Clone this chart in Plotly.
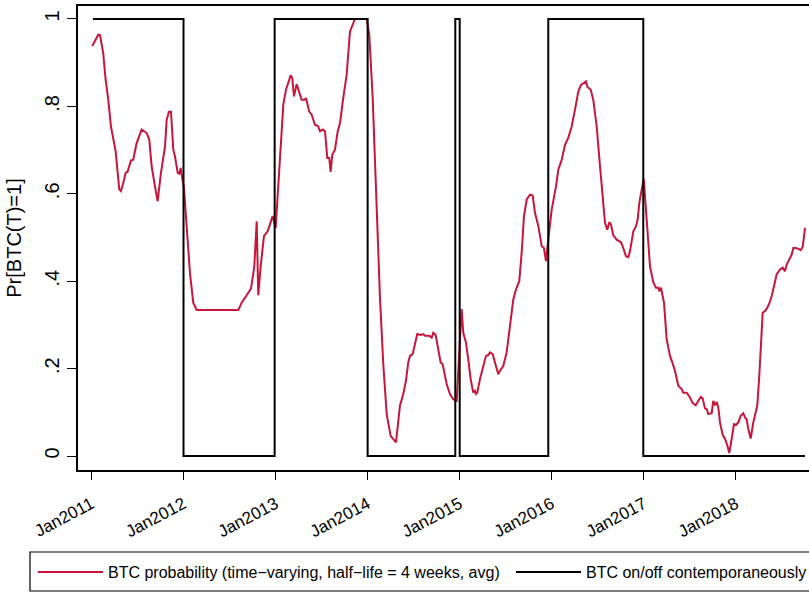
import plotly.graph_objects as go
import pandas as pd

# Red series: BTC probability (decimal year, value)
prob_t = [2011.011, 2011.076, 2011.095, 2011.130, 2011.156, 2011.185, 2011.214, 2011.265, 2011.304, 2011.323,
          2011.348, 2011.374, 2011.395, 2011.431, 2011.456, 2011.493, 2011.547, 2011.602, 2011.630, 2011.656,
          2011.692, 2011.721, 2011.757, 2011.801, 2011.819, 2011.844, 2011.866, 2011.891, 2011.909, 2011.939,
          2011.956, 2011.971, 2011.982, 2012.007, 2012.036, 2012.072, 2012.108, 2012.145, 2012.597, 2012.634,
          2012.688, 2012.735, 2012.771, 2012.797, 2012.814, 2012.840, 2012.876, 2012.916, 2012.941, 2012.970,
          2013.003, 2013.050, 2013.086, 2013.115, 2013.140, 2013.166, 2013.183, 2013.202, 2013.231, 2013.259,
          2013.285, 2013.314, 2013.332, 2013.368, 2013.394, 2013.430, 2013.466, 2013.484, 2013.514, 2013.539,
          2013.564, 2013.585, 2013.600, 2013.618, 2013.647, 2013.677, 2013.702, 2013.737, 2013.774, 2013.810,
          2013.846, 2013.864, 2013.992, 2014.020, 2014.057, 2014.100, 2014.136, 2014.172, 2014.209, 2014.252,
          2014.310, 2014.328, 2014.353, 2014.389, 2014.418, 2014.443, 2014.462, 2014.491, 2014.516, 2014.541,
          2014.578, 2014.606, 2014.625, 2014.672, 2014.698, 2014.715, 2014.741, 2014.769, 2014.795, 2014.817,
          2014.842, 2014.861, 2014.896, 2014.932, 2014.969, 2014.997, 2015.023, 2015.041, 2015.070, 2015.095,
          2015.121, 2015.149, 2015.168, 2015.179, 2015.193, 2015.222, 2015.258, 2015.287, 2015.312, 2015.331,
          2015.360, 2015.393, 2015.421, 2015.439, 2015.475, 2015.512, 2015.548, 2015.584, 2015.613, 2015.649,
          2015.675, 2015.700, 2015.730, 2015.765, 2015.795, 2015.820, 2015.856, 2015.893, 2015.917, 2015.939,
          2015.964, 2016.001, 2016.048, 2016.073, 2016.110, 2016.146, 2016.181, 2016.218, 2016.254, 2016.290,
          2016.319, 2016.374, 2016.388, 2016.425, 2016.453, 2016.490, 2016.526, 2016.555, 2016.580, 2016.605,
          2016.627, 2016.645, 2016.670, 2016.707, 2016.725, 2016.754, 2016.779, 2016.808, 2016.833, 2016.852,
          2016.888, 2016.917, 2016.935, 2016.953, 2016.979, 2017.001, 2017.033, 2017.069, 2017.105, 2017.134,
          2017.159, 2017.170, 2017.188, 2017.221, 2017.250, 2017.286, 2017.315, 2017.340, 2017.376, 2017.413,
          2017.431, 2017.468, 2017.503, 2017.533, 2017.565, 2017.594, 2017.620, 2017.641, 2017.666, 2017.685,
          2017.702, 2017.739, 2017.756, 2017.775, 2017.793, 2017.811, 2017.829, 2017.859, 2017.884, 2017.909,
          2017.930, 2017.956, 2017.981, 2018.003, 2018.028, 2018.054, 2018.082, 2018.101, 2018.119, 2018.137,
          2018.163, 2018.191, 2018.209, 2018.234, 2018.256, 2018.275, 2018.293, 2018.318, 2018.337, 2018.365,
          2018.391, 2018.416, 2018.445, 2018.481, 2018.510, 2018.535, 2018.554, 2018.582, 2018.608, 2018.626,
          2018.655, 2018.680, 2018.706, 2018.728, 2018.753]
prob_v = [0.938, 0.964, 0.963, 0.922, 0.861, 0.815, 0.754, 0.697, 0.610, 0.606,
          0.625, 0.648, 0.651, 0.676, 0.678, 0.716, 0.747, 0.739, 0.724, 0.663,
          0.617, 0.583, 0.648, 0.708, 0.769, 0.788, 0.788, 0.701, 0.686, 0.648,
          0.646, 0.659, 0.644, 0.613, 0.526, 0.419, 0.351, 0.334, 0.334, 0.351,
          0.368, 0.383, 0.434, 0.537, 0.368, 0.434, 0.503, 0.514, 0.530, 0.549,
          0.522, 0.689, 0.804, 0.838, 0.857, 0.871, 0.865, 0.823, 0.851, 0.834,
          0.815, 0.815, 0.819, 0.788, 0.781, 0.758, 0.754, 0.743, 0.747, 0.743,
          0.682, 0.682, 0.650, 0.689, 0.701, 0.743, 0.762, 0.819, 0.872, 0.971,
          0.994, 1.000, 1.000, 0.963, 0.819, 0.553, 0.362, 0.210, 0.096, 0.046,
          0.031, 0.066, 0.115, 0.142, 0.172, 0.214, 0.229, 0.233, 0.256, 0.279,
          0.277, 0.279, 0.275, 0.275, 0.271, 0.282, 0.277, 0.240, 0.214, 0.210,
          0.180, 0.164, 0.142, 0.130, 0.126, 0.233, 0.336, 0.282, 0.260, 0.221,
          0.176, 0.145, 0.149, 0.142, 0.145, 0.176, 0.206, 0.229, 0.231, 0.237,
          0.233, 0.206, 0.187, 0.195, 0.206, 0.237, 0.297, 0.358, 0.381, 0.400,
          0.465, 0.549, 0.587, 0.598, 0.596, 0.556, 0.526, 0.480, 0.476, 0.446,
          0.495, 0.564, 0.617, 0.655, 0.678, 0.712, 0.728, 0.754, 0.792, 0.834,
          0.849, 0.857, 0.845, 0.838, 0.815, 0.754, 0.663, 0.587, 0.534, 0.518,
          0.535, 0.530, 0.505, 0.495, 0.492, 0.489, 0.476, 0.457, 0.455, 0.469,
          0.514, 0.526, 0.541, 0.579, 0.610, 0.634, 0.541, 0.434, 0.397, 0.385,
          0.385, 0.377, 0.385, 0.351, 0.267, 0.229, 0.212, 0.195, 0.161, 0.153,
          0.145, 0.145, 0.134, 0.121, 0.116, 0.126, 0.135, 0.132, 0.109, 0.107,
          0.096, 0.098, 0.126, 0.116, 0.124, 0.111, 0.077, 0.048, 0.039, 0.024,
          0.007, 0.039, 0.073, 0.071, 0.077, 0.092, 0.098, 0.088, 0.084, 0.062,
          0.040, 0.077, 0.092, 0.115, 0.183, 0.260, 0.328, 0.332, 0.337, 0.349,
          0.366, 0.389, 0.416, 0.427, 0.431, 0.423, 0.438, 0.450, 0.461, 0.476,
          0.476, 0.474, 0.471, 0.479, 0.522]

# Black series: BTC on/off contemporaneously (step changes)
onoff_t = [2011.018, 2012.002, 2012.992, 2014.002, 2014.954, 2015.002, 2015.964, 2016.996, 2018.753]
onoff_v = [1, 0, 1, 0, 1, 0, 1, 0, 0]

tick_years = [2011, 2012, 2013, 2014, 2015, 2016, 2017, 2018]
tick_labels = ["Jan2011", "Jan2012", "Jan2013", "Jan2014", "Jan2015", "Jan2016", "Jan2017", "Jan2018"]
y_ticks = [0, 0.2, 0.4, 0.6, 0.8, 1]
y_labels = ["0", ".2", ".4", ".6", ".8", "1"]

BASE = pd.Timestamp("2011-01-01")


def to_date(years):
    return [BASE + pd.Timedelta(days=(y - 2011) * 365.25) for y in years]


FONT = "Liberation Sans, Arial, Helvetica, sans-serif"
W, H = 809, 592
L, R, T, B = 78, 0, 6, 122
PW, PH = W - L - R, H - T - B


def px_to_paper_x(px):
    return (px - L) / PW


def px_to_paper_y(py):
    return (H - B - py) / PH


fig = go.Figure()
fig.add_trace(go.Scatter(
    x=to_date(prob_t), y=prob_v, mode="lines",
    name="BTC probability (time\u2212varying, half\u2212life = 4 weeks, avg)",
    line=dict(color="#C8153A", width=2), legend="legend",
))
fig.add_trace(go.Scatter(
    x=to_date(onoff_t), y=onoff_v, mode="lines", line_shape="hv",
    name="BTC on/off contemporaneously",
    line=dict(color="#000000", width=2), legend="legend2",
))

# legend frame
fig.add_shape(type="rect", xref="paper", yref="paper",
              x0=px_to_paper_x(30), x1=px_to_paper_x(830),
              y0=px_to_paper_y(591), y1=px_to_paper_y(552),
              line=dict(color="black", width=1.2), fillcolor="rgba(0,0,0,0)")

leg_common = dict(
    orientation="h", xanchor="left", y=px_to_paper_y(555), yanchor="top",
    borderwidth=0, font=dict(size=16, family=FONT),
    itemwidth=65, bgcolor="rgba(0,0,0,0)",
)

fig.update_layout(
    width=W, height=H,
    margin=dict(l=L, r=R, t=T, b=B, autoexpand=False),
    paper_bgcolor="white", plot_bgcolor="white",
    font=dict(family=FONT, color="black"),
    showlegend=True,
    legend=dict(x=px_to_paper_x(33), **leg_common),
    legend2=dict(x=px_to_paper_x(511), **leg_common),
)
fig.update_xaxes(
    type="date",
    range=to_date([2010.856, 2018.796]),
    tickvals=[f"{y}-01-01" for y in tick_years], ticktext=tick_labels,
    tickangle=-28, tickfont=dict(size=17, family=FONT),
    ticks="outside", ticklen=8, tickwidth=1.2, tickcolor="black",
    ticklabelstandoff=8,
    showline=True, linecolor="black", linewidth=1.5, mirror=True,
    showgrid=False, zeroline=False,
)
fig.update_yaxes(
    range=[-0.032, 1.0297],
    tickvals=y_ticks, ticktext=y_labels,
    tickangle=-90, tickfont=dict(size=20, family=FONT),
    ticks="outside", ticklen=9, tickwidth=1.2, tickcolor="black",
    showline=True, linecolor="black", linewidth=1.5,
    showgrid=False, zeroline=False,
    title=dict(text="Pr[BTC(T)=1]", font=dict(size=20, family=FONT), standoff=14),
)

fig.write_html("out.html", config={"displayModeBar": False},
               post_script="document.body.style.margin='0px';")
